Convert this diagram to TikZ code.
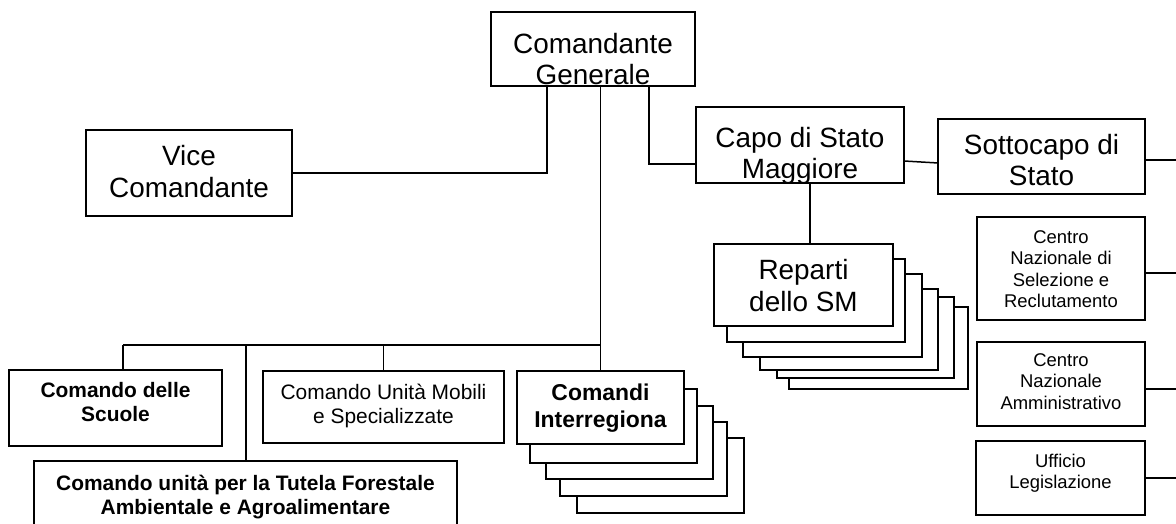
\documentclass[tikz,border=0pt]{standalone}
\usepackage{fontspec}
\setmainfont{Liberation Sans}
\usetikzlibrary{fit}
\begin{document}
\begin{tikzpicture}[x=1bp,y=-1bp,
  box/.style={draw, line width=1.8bp, fill=white, inner sep=0pt, outer sep=0pt},
  mainbox/.style={box, line width=2.8bp},
  conn/.style={line width=1.5bp},
  tA/.style={font=\fontsize{28}{32}\selectfont, align=center, inner sep=0pt, anchor=north},
  tS/.style={font=\fontsize{18.5}{21.5}\selectfont, align=center, inner sep=0pt, anchor=north},
  tB/.style={font=\fontsize{21}{24}\selectfont\bfseries, align=center, inner sep=0pt, anchor=north},
  tM/.style={font=\fontsize{21}{24}\selectfont, align=center, inner sep=0pt, anchor=north},
  tC/.style={font=\fontsize{23}{27}\selectfont\bfseries, align=center, inner sep=0pt, anchor=north}]
\clip (0,0) rectangle (1176,524);
\fill[white] (0,0) rectangle (1176,524);

% Comandante Generale
\node[mainbox, fit={(491,12) (695,86)}] (cg) {};
\begin{scope}
  \clip (492,13) rectangle (694,85);
  \node[tA] (cgt) at (593,30.6) {\strut Comandante\\\strut Generale};
\end{scope}

% Vice Comandante
\node[box, fit={(86,130) (292,216)}] (vice) {};
\node[tA] (vicet) at (189,143) {\strut Vice\\\strut Comandante};

% Capo di Stato Maggiore
\node[box, fit={(696,107) (904,183)}] (capo) {};
\begin{scope}
  \clip (697,108) rectangle (903,181.5);
  \node[tA] (capot) at (800,124.6) {\strut Capo di Stato\\\strut Maggiore};
\end{scope}

% Sottocapo di Stato
\node[box, fit={(938,119) (1145,194)}] (sotto) {};
\node[tA] (sottot) at (1041.5,131.6) {\strut Sottocapo di\\\strut Stato};

% Reparti dello SM (stack)
\draw[box] (789,307) rectangle (968,389);
\draw[box] (777,297) rectangle (954,378);
\draw[box] (760,289) rectangle (938,370);
\draw[box] (743,274) rectangle (922,357);
\draw[box] (727,259) rectangle (905,342);
\node[box, fit={(714,244) (893,326)}] (rep) {};
\node[tA] (rept) at (803.5,257) {\strut Reparti\\\strut dello SM};

% Right column
\node[box, fit={(977,217) (1145,320)}] (cs) {};
\node[tS] (cst) at (1061,228) {\strut Centro\\\strut Nazionale di\\\strut Selezione e\\\strut Reclutamento};
\node[box, fit={(977,342) (1145,426)}] (ca) {};
\node[tS] (cat) at (1061,351) {\strut Centro\\\strut Nazionale\\\strut Amministrativo};
\node[box, fit={(976,441) (1145,515)}] (uf) {};
\node[tS] (uft) at (1060.5,452) {\strut Ufficio\\\strut Legislazione};

% Bottom row
\node[box, fit={(9,370) (222,446)}] (scu) {};
\node[tB] (scut) at (115.5,380.2) {\strut Comando delle\\\strut Scuole};
\node[box, fit={(263,371) (504,443)}] (mob) {};
\node[tM] (mobt) at (383.5,382.2) {\strut Comando Unità Mobili\\\strut e Specializzate};
\node[box, fit={(34,461) (457,545)}] (tut) {};
\node[tB] (tutt) at (245.5,473.5) {\strut Comando unità per la Tutela Forestale\\\strut Ambientale e Agroalimentare};

% Comandi Interregionali (stack)
\draw[box] (577,438) rectangle (744,513);
\draw[box] (560,422) rectangle (727,496);
\draw[box] (546,406) rectangle (713,479);
\draw[box] (530,389) rectangle (697,463);
\node[box, fit={(517,371) (684,444)}] (ci) {};
\node[tC] (cit) at (600.5,381.1) {\strut Comandi\\\strut Interregiona};

% Connectors
\coordinate (bus) at (600.5,345);
\coordinate (busL) at (123,345);
\coordinate (jt) at (246,345);

\draw[conn] ([xshift=-46bp]cg.south) |- (vice.east);
\draw[conn] ([xshift=56bp]cg.south) |- ([yshift=-19bp]capo.west);
\draw[conn] (cg.south -| ci.north) -- (ci.north);
\draw[conn] (busL) -- (bus);
\draw[conn] (busL) -- (busL |- scu.north);
\draw[conn] (jt) -- (jt |- tut.north);
\draw[conn] (mob.north |- bus) -- (mob.north);
\draw[conn] ([yshift=-16bp]capo.east) -- ([yshift=-6.5bp]sotto.west);
\draw[conn] ([yshift=-3.5bp]sotto.east) -- ++(40bp,0);
\draw[conn] ([xshift=10bp]capo.south) -- ([xshift=10bp]capo.south |- rep.north);
\draw[conn] ([yshift=-4.5bp]cs.east) -- ++(40bp,0);
\draw[conn] ([yshift=-5bp]ca.east) -- ++(40bp,0);
\draw[conn] (uf.east) -- ++(40bp,0);
\end{tikzpicture}
\end{document}
